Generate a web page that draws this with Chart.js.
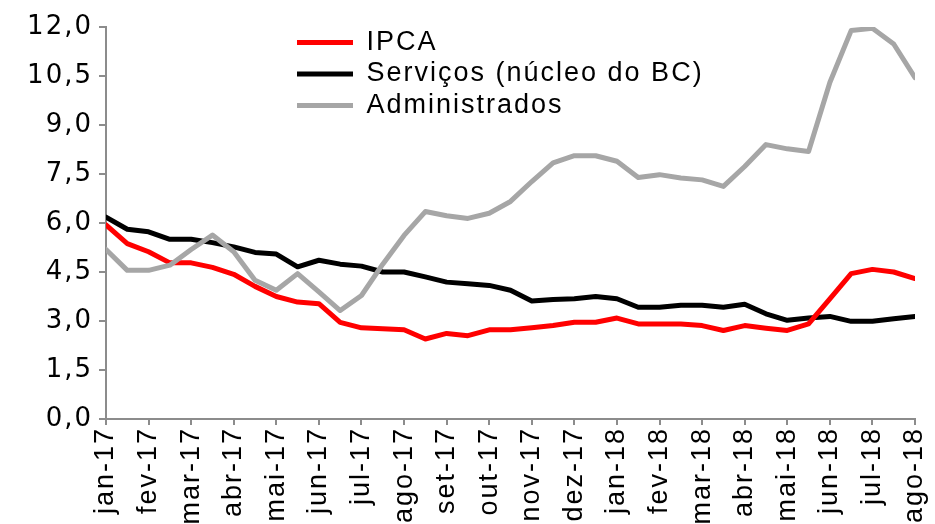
<!DOCTYPE html>
<html>
<head>
<meta charset="utf-8">
<script src="https://cdn.jsdelivr.net/npm/chart.js@4.4.1/dist/chart.umd.min.js"></script>
<style>
html,body{margin:0;padding:0;background:#ffffff;overflow:hidden;}
canvas{display:block;}
</style>
</head>
<body>
<canvas id="c" width="935" height="524" style="width:935px;height:524px"></canvas>
<script>
// Tick labels of the x axis (one per month)
const tickLabels = ['jan-17','fev-17','mar-17','abr-17','mai-17','jun-17','jul-17','ago-17','set-17','out-17','nov-17','dez-17',
                    'jan-18','fev-18','mar-18','abr-18','mai-18','jun-18','jul-18','ago-18'];

// Series (two readings per month, from jan-17 to ago-18)
const ipca = [5.94, 5.37, 5.12, 4.78, 4.78, 4.64, 4.43, 4.06, 3.75, 3.58, 3.53, 2.96, 2.79, 2.76, 2.73, 2.45, 2.62, 2.55, 2.73, 2.73,
              2.79, 2.86, 2.96, 2.96, 3.09, 2.91, 2.91, 2.91, 2.86, 2.71, 2.86, 2.78, 2.71, 2.91, 3.68, 4.45, 4.58, 4.50, 4.30];
const servicos = [6.18, 5.81, 5.73, 5.50, 5.50, 5.40, 5.27, 5.10, 5.05, 4.66, 4.86, 4.74, 4.68, 4.50, 4.50, 4.35, 4.19, 4.14, 4.09, 3.94,
                  3.61, 3.66, 3.68, 3.75, 3.68, 3.42, 3.42, 3.48, 3.48, 3.42, 3.51, 3.22, 3.02, 3.09, 3.14, 2.99, 2.99, 3.07, 3.14];
const administrados = [5.19, 4.55, 4.55, 4.71, 5.19, 5.63, 5.12, 4.25, 3.94, 4.45, 3.89, 3.32, 3.78, 4.74, 5.62, 6.35, 6.22, 6.14, 6.30, 6.66,
                       7.27, 7.84, 8.06, 8.06, 7.89, 7.39, 7.48, 7.38, 7.32, 7.12, 7.73, 8.40, 8.27, 8.19, 10.30, 11.89, 11.96, 11.48, 10.45];

const seriesNames = ['IPCA', 'Serviços (núcleo do BC)', 'Administrados'];
const seriesColors = ['#ff0000', '#000000', '#a6a6a6'];

const yMin = 0, yMax = 12, yStep = 1.5;

function toPoints(arr) { return arr.map((v, i) => ({ x: i / 2, y: v })); }

const FONT = "'Liberation Sans', Arial, sans-serif";
const YFONT = "'DejaVu Sans', 'Liberation Sans', sans-serif";
const LS = '2px';
const axisGray = '#8c8c8c';

const spacingPlugin = {
  id: 'spacingPlugin',
  beforeUpdate(chart) { chart.ctx.letterSpacing = LS; },
  beforeLayout(chart) { chart.ctx.letterSpacing = LS; },
  beforeDraw(chart) { chart.ctx.letterSpacing = LS; },
  afterLayout(chart) {
    const lg = chart.legend;
    if (!lg) return;
    const pad = lg.options.labels.padding;
    const w = lg.width;
    lg.left = 297 - pad;
    lg.right = lg.left + w;
    lg.top = 29 - pad;
    lg.bottom = lg.top + 120;
    lg.height = 120;
  }
};

const datasets = [ipca, servicos, administrados].map((arr, k) => ({
  label: seriesNames[k],
  data: toPoints(arr),
  borderColor: seriesColors[k],
  backgroundColor: seriesColors[k],
  borderWidth: 5,
  pointRadius: 0,
  tension: 0,
  fill: false,
  borderJoinStyle: 'round',
  borderCapStyle: 'round',
  order: k === 2 ? 0 : k + 1
}));

new Chart(document.getElementById('c'), {
  type: 'line',
  data: { datasets },
  plugins: [spacingPlugin],
  options: {
    responsive: false,
    animation: false,
    layout: { padding: { top: 27, right: 20, left: 0, bottom: 0 } },
    plugins: {
      tooltip: { enabled: false },
      legend: {
        position: 'chartArea',
        align: 'start',
        labels: {
          color: '#000',
          font: { family: FONT, size: 27, lineHeight: 1 },
          boxWidth: 56,
          boxHeight: 5,
          padding: 4.5,
          sort: (a, b) => a.datasetIndex - b.datasetIndex,
          generateLabels(chart) {
            const items = Chart.defaults.plugins.legend.labels.generateLabels(chart);
            items.forEach(it => { it.fillStyle = seriesColors[it.datasetIndex]; it.lineWidth = 0; it.strokeStyle = 'rgba(0,0,0,0)'; });
            return items;
          }
        }
      }
    },
    scales: {
      x: {
        type: 'linear',
        min: 0,
        max: tickLabels.length - 1,
        offset: false,
        afterFit(scale) { scale.height = 105; scale.paddingLeft = 0; scale.paddingRight = 0; },
        border: { display: true, color: axisGray, width: 2 },
        grid: { drawOnChartArea: false, drawTicks: true, tickLength: 6, color: axisGray, lineWidth: 2 },
        ticks: {
          stepSize: 1,
          autoSkip: false,
          maxRotation: 90,
          minRotation: 90,
          padding: 2,
          color: '#000',
          font: { family: FONT, size: 27 },
          callback: (v) => tickLabels[Math.round(v)] ?? ''
        }
      },
      y: {
        min: yMin,
        max: yMax,
        afterFit(scale) { scale.width = 106; scale.paddingTop = 0; scale.paddingBottom = 0; },
        border: { display: true, color: axisGray, width: 2 },
        grid: { drawOnChartArea: false, drawTicks: true, tickLength: 7, color: axisGray, lineWidth: 2 },
        ticks: {
          stepSize: yStep,
          padding: 6,
          color: '#000',
          font: { family: YFONT, size: 26 },
          callback: (v) => v.toFixed(1).replace('.', ',')
        }
      }
    }
  }
});
</script>
</body>
</html>
